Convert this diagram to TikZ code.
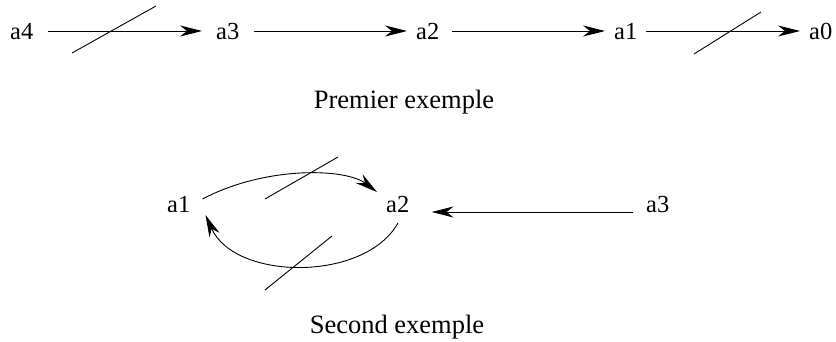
\documentclass[tikz,border=0pt]{standalone}
\usepackage{fontspec}
\setmainfont{Liberation Serif}
\usetikzlibrary{arrows.meta,calc}
\begin{document}
\begin{tikzpicture}[x=1pt,y=-1pt,
  lbl/.style={inner sep=0pt,font=\fontsize{24.5}{29}\selectfont},
  ttl/.style={inner sep=0pt,font=\fontsize{26.5}{31}\selectfont},
  arr/.style={line width=0.9pt,-{Stealth[length=22pt,width=11pt,inset=7pt]}},
  slash/.style={line width=0.9pt}]
\useasboundingbox (0,0) rectangle (836,342);
% first example
\node[lbl,anchor=base west] (r4) at (10,40) {a4};
\node[lbl,anchor=base west] (r3) at (216,40) {a3};
\node[lbl,anchor=base west] (r2) at (416,40) {a2};
\node[lbl,anchor=base west] (r1) at (614,40) {a1};
\node[lbl,anchor=base west] (r0) at (809,40) {a0};
\node[ttl,anchor=base] (t1) at (404,109) {Premier exemple};
\draw[arr] ($(r4.base east)+(14,-9)$) -- ($(r3.base west)+(-14,-9)$);
\draw[arr] ($(r3.base east)+(14,-9)$) -- ($(r2.base west)+(-9,-9)$);
\draw[arr] ($(r2.base east)+(12,-9)$) -- ($(r1.base west)+(-9,-9)$);
\draw[arr] ($(r1.base east)+(8,-9)$) -- ($(r0.base west)+(-9,-9)$);
\draw[slash] (72,53) -- (156,6);
\draw[slash] (694,54) -- (761,12);
% second example
\node[lbl,anchor=base west] (s1) at (167,212) {a1};
\node[lbl,anchor=base west] (s2) at (386,212) {a2};
\node[lbl,anchor=base west] (s3) at (646,212) {a3};
\node[ttl,anchor=base] (t2) at (397,333) {Second exemple};
\draw[arr] ($(s3.base west)+(-13,0)$) -- ($(s2.base east)+(22,0)$);
\draw[arr] ($(s1.base east)+(12,-13)$) .. controls (265,166) and (345,168) .. ($(s2.base west)+(-9,-20)$);
\draw[arr] ($(s2.base west)+(12,11)$) .. controls (365,282) and (235,281) .. ($(s1.base east)+(15,3)$);
\draw[slash] (265,199) -- (338,157);
\draw[slash] (265,290) -- (332,236);
\end{tikzpicture}
\end{document}
